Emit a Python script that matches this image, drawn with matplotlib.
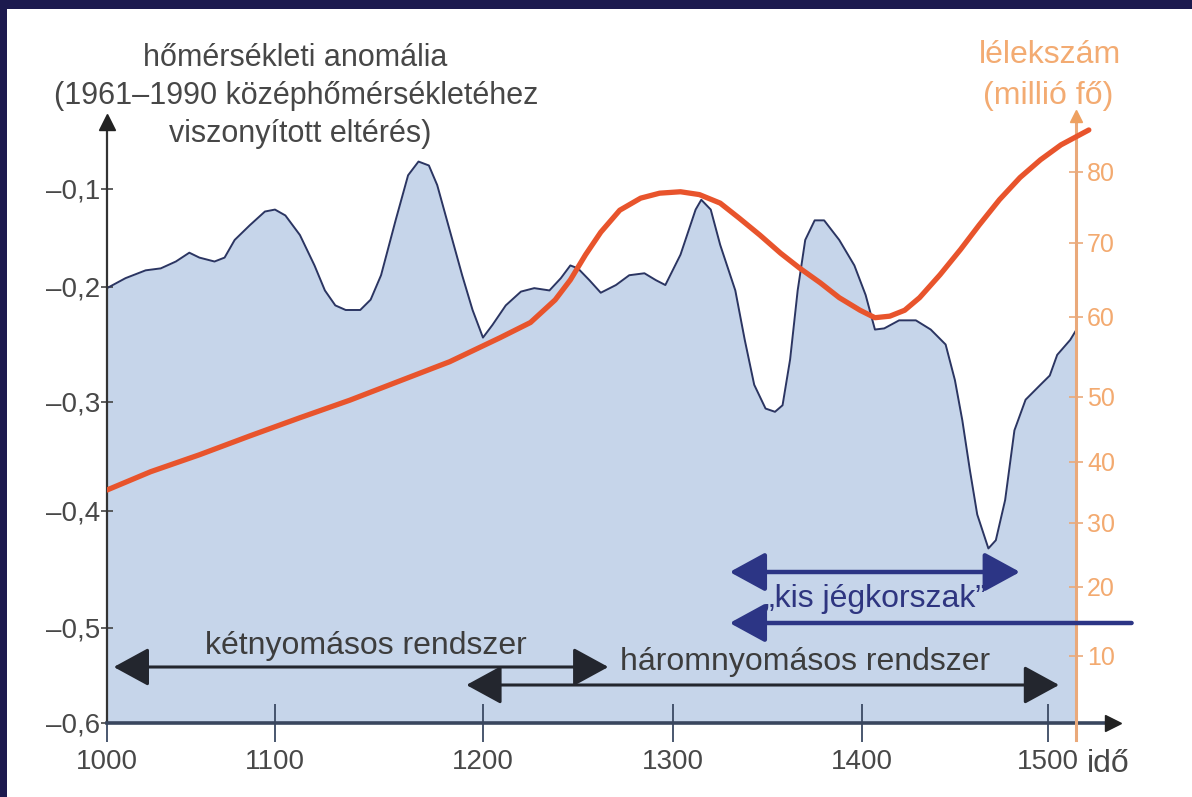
import matplotlib
matplotlib.use("Agg")
import numpy as np
import matplotlib.pyplot as plt
from matplotlib.patches import Rectangle, ArrowStyle
from matplotlib.ticker import FixedLocator, FixedFormatter

plt.rcParams['font.family'] = ['Liberation Sans', 'DejaVu Sans']

# ---------------- data ----------------
temp_years = [1000, 1011, 1023, 1032, 1041, 1049, 1055, 1064, 1070, 1076, 1085, 1094, 1100, 1105,
              1112, 1119, 1124, 1129, 1134, 1141, 1146, 1151, 1158, 1164, 1169, 1174, 1178, 1184,
              1190, 1195, 1200, 1205, 1212, 1220, 1227, 1235, 1241, 1246, 1250, 1256, 1262, 1270,
              1277, 1285, 1291, 1296, 1304, 1312, 1315, 1320, 1325, 1333, 1338, 1343, 1349, 1354,
              1358, 1362, 1366, 1370, 1375, 1380, 1388, 1396, 1402, 1407, 1412, 1420, 1429, 1437,
              1445, 1450, 1454, 1458, 1462, 1468, 1472, 1477, 1482, 1488, 1496, 1501, 1505, 1512, 1515]
temp_vals = [-0.201, -0.191, -0.183, -0.181, -0.174, -0.165, -0.170, -0.174, -0.170, -0.152, -0.137,
             -0.123, -0.121, -0.127, -0.147, -0.178, -0.203, -0.216, -0.220, -0.220, -0.211, -0.188,
             -0.132, -0.086, -0.072, -0.076, -0.096, -0.142, -0.188, -0.220, -0.244, -0.233, -0.216,
             -0.204, -0.201, -0.203, -0.191, -0.178, -0.181, -0.193, -0.205, -0.198, -0.188, -0.186,
             -0.193, -0.198, -0.167, -0.121, -0.111, -0.121, -0.157, -0.203, -0.246, -0.285, -0.306,
             -0.309, -0.303, -0.263, -0.203, -0.152, -0.132, -0.132, -0.152, -0.178, -0.207, -0.237,
             -0.236, -0.229, -0.229, -0.237, -0.250, -0.281, -0.317, -0.362, -0.403, -0.432, -0.425,
             -0.390, -0.326, -0.298, -0.285, -0.277, -0.259, -0.246, -0.238]

pop_years = [1000, 1026, 1055, 1085, 1112, 1136, 1160, 1184, 1209, 1225, 1238, 1246, 1254, 1262,
             1272, 1283, 1293, 1304, 1314, 1325, 1335, 1346, 1357, 1367, 1378, 1388, 1399, 1407,
             1415, 1423, 1431, 1442, 1453, 1463, 1474, 1485, 1496, 1507, 1517, 1522]
pop_vals = [35.4, 38.4, 41.1, 44.0, 46.8, 49.5, 52.0, 54.4, 57.4, 59.3, 62.3, 65.0, 68.4, 71.5,
            74.6, 76.3, 77.0, 77.2, 76.8, 75.6, 73.5, 71.1, 68.6, 66.6, 64.6, 62.6, 60.9, 59.9,
            60.1, 60.9, 62.6, 65.7, 69.1, 72.5, 76.1, 79.2, 81.7, 83.8, 85.2, 85.9]

x_ticks = [1000, 1100, 1200, 1300, 1400, 1500]
x_tick_labels = ['1000', '1100', '1200', '1300', '1400', '1500']
temp_ticks = [-0.6, -0.5, -0.4, -0.3, -0.2, -0.1]
temp_tick_labels = ['\u20130,6', '\u20130,5', '\u20130,4', '\u20130,3', '\u20130,2', '\u20130,1']
pop_ticks = [10, 20, 30, 40, 50, 60, 70, 80]
pop_tick_labels = ['10', '20', '30', '40', '50', '60', '70', '80']

# periods (years) for the annotation arrows
ket_period = [1004, 1266]
harom_period = [1192, 1506]
jeg_period = [1330, 1485]
jeg_open_period = [1330, 1545]
right_axis_year = 1515

# ------------- hand-drawn (uneven) axis scales of the original -------------
X_SCALE_VALS = [800, 1000, 1100, 1200, 1300, 1400, 1500, 1700]
X_SCALE_POS = [-336, 0, 168, 376, 566, 755, 941, 1313]
T_SCALE_VALS = [-0.8, -0.6, -0.5, -0.4, -0.3, -0.2, -0.1, 0.1]
T_SCALE_POS = [-190, 0, 95, 212, 321, 436, 534, 730]
P_SCALE_VALS = [-10, 0, 10, 20, 30, 40, 50, 60, 70, 80, 100]
P_SCALE_POS = [-67, 0, 67, 136, 200, 261, 326, 406, 480, 551, 693]


def make_scale(vals, pos):
    vals = np.asarray(vals, float)
    pos = np.asarray(pos, float)
    fwd = lambda v: np.interp(v, vals, pos)
    inv = lambda p: np.interp(p, pos, vals)
    return fwd, inv

# ---------------- figure ----------------
W, H = 1192, 797
fig = plt.figure(figsize=(W / 100, H / 100), dpi=100, facecolor='#1c1a4e')
fig.patches.append(Rectangle((7 / W, 0), 1 - 7 / W, 1 - 9 / H, transform=fig.transFigure,
                             facecolor='white', edgecolor='none', zorder=-5))

ax = fig.add_axes([107 / W, (H - 723) / H, (1113 - 107) / W, (723 - 125) / H])
ax.set_facecolor('none')
ax.set_xscale('function', functions=make_scale(X_SCALE_VALS, X_SCALE_POS))
ax.set_yscale('function', functions=make_scale(T_SCALE_VALS, T_SCALE_POS))
ax.set_xlim(1000, 1535)
ax.set_ylim(-0.6, -0.0347)

ax.fill_between(temp_years, temp_vals, -0.6, color='#c6d5ea', lw=0, zorder=1)
ax.plot(temp_years, temp_vals, color='#2b3562', lw=1.4, zorder=2)

for s in ['top', 'right']:
    ax.spines[s].set_visible(False)
ax.spines['left'].set_color('#333333')
ax.spines['left'].set_linewidth(1.6)
ax.spines['bottom'].set_color('#39465e')
ax.spines['bottom'].set_linewidth(2.6)
ax.plot(0, 1.005, marker='^', color='#222222', ms=11, transform=ax.transAxes, clip_on=False, zorder=6)
ax.plot(1, 0, marker='>', color='#222222', ms=12, transform=ax.transAxes, clip_on=False, zorder=6)

ax.xaxis.set_major_locator(FixedLocator(x_ticks))
ax.xaxis.set_major_formatter(FixedFormatter(x_tick_labels))
ax.xaxis.set_minor_locator(FixedLocator([]))
ax.yaxis.set_major_locator(FixedLocator(temp_ticks))
ax.yaxis.set_major_formatter(FixedFormatter(temp_tick_labels))
ax.yaxis.set_minor_locator(FixedLocator([]))
ax.tick_params(axis='x', direction='inout', length=28, width=1.3, color='#3b4a63',
               labelsize=20, labelcolor='#484848', pad=5)
ax.tick_params(axis='y', direction='inout', length=8, width=1.2, color='#444444',
               labelsize=20, labelcolor='#484848', pad=1)

# twin axis for population
ax2 = ax.twinx()
ax2.set_yscale('function', functions=make_scale(P_SCALE_VALS, P_SCALE_POS))
ax2.set_ylim(0, 86.6)
ax2.set_facecolor('none')
ax2.plot(pop_years, pop_vals, color='#e8542c', lw=3.8, zorder=5, solid_capstyle='round')
for s in ['top', 'left', 'bottom']:
    ax2.spines[s].set_visible(False)
ax2.spines['right'].set_position(('data', right_axis_year))
ax2.spines['right'].set_color('#eaa97a')
ax2.spines['right'].set_linewidth(2.2)
ax2.spines['right'].set_bounds(-2.5, 87.5)
ax2.plot(right_axis_year, 87.8, marker='^', color='#eea060', ms=8, clip_on=False, zorder=6)
ax2.yaxis.set_major_locator(FixedLocator(pop_ticks))
ax2.yaxis.set_major_formatter(FixedFormatter(pop_tick_labels))
ax2.yaxis.set_minor_locator(FixedLocator([]))
ax2.tick_params(axis='y', direction='inout', length=10, width=1.2, color='#eaa97a',
                labelsize=18, labelcolor='#f3aa70', pad=3)

# ---------------- annotation arrows ----------------
def period_arrow(axis, period, yfrac, style, color, lw):
    axis.annotate('', xy=(period[1], yfrac), xytext=(period[0], yfrac),
                  xycoords=('data', 'axes fraction'), textcoords=('data', 'axes fraction'),
                  annotation_clip=False,
                  arrowprops=dict(arrowstyle=style, color=color, lw=lw, shrinkA=0, shrinkB=0,
                                  mutation_scale=20), zorder=7)

st2 = ArrowStyle('<|-|>', head_length=1.1, head_width=0.6)
stl = ArrowStyle('<|-', head_length=1.1, head_width=0.6)
period_arrow(ax2, ket_period, (723 - 667) / 598, st2, '#23262e', 2.2)
period_arrow(ax2, harom_period, (723 - 685) / 598, st2, '#23262e', 2.2)
period_arrow(ax2, jeg_period, (723 - 572) / 598, st2, '#2c3585', 3.2)
period_arrow(ax2, jeg_open_period, (723 - 623) / 598, stl, '#2c3585', 3.2)

# ---------------- texts ----------------
def ftext(x, y, s, **kw):
    fig.text(x / W, 1 - y / H, s, **kw)

tkw = dict(fontsize=22, color='#474747', ha='center', va='center')
ftext(295, 58, 'hőmérsékleti anomália', **tkw)
ftext(296, 96, '(1961\u20131990 középhőmérsékletéhez', **tkw)
ftext(300, 134, 'viszonyított eltérés)', **tkw)

okw = dict(fontsize=23, color='#f3ab72', ha='center', va='center')
ftext(1050, 55, 'lélekszám', **okw)
ftext(1048, 96, '(millió fő)', **okw)

ftext(366, 646, 'kétnyomásos rendszer', fontsize=23, color='#3d3d3d', ha='center', va='center')
ftext(805, 662, 'háromnyomásos rendszer', fontsize=23, color='#3d3d3d', ha='center', va='center')
ftext(875, 599, '\u201ekis jégkorszak\u201d', fontsize=23, color='#2e3580', ha='center', va='center')
ftext(1087, 764, 'idő', fontsize=23, color='#484848', ha='left', va='center')

fig.savefig('out.png', dpi=100, facecolor=fig.get_facecolor())
